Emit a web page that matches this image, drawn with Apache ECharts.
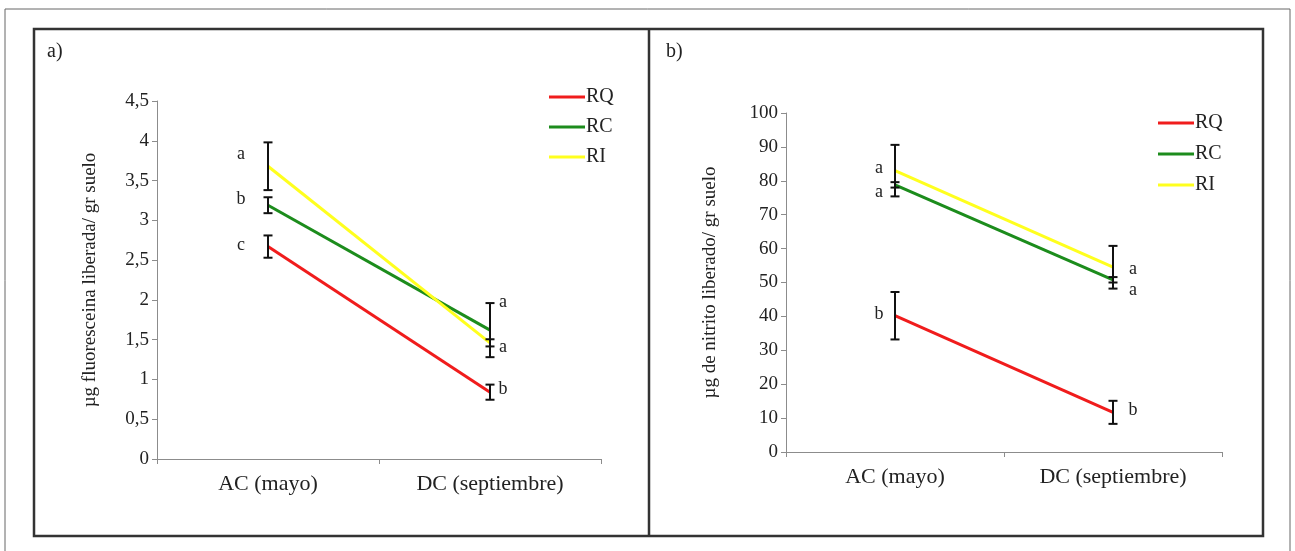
<!DOCTYPE html>
<html>
<head>
<meta charset="utf-8">
<script src="https://cdn.jsdelivr.net/npm/echarts@6/dist/echarts.min.js"></script>
<style>
  html, body { margin: 0; padding: 0; background: #fff; }
  #chart { width: 1295px; height: 551px; }
</style>
</head>
<body>
<div id="chart"></div>
<script>
// categories and series names
const categories = ['AC (mayo)', 'DC (septiembre)'];
const treatments = ['RQ', 'RC', 'RI'];

// panel a) fluoresceina
const fluorRQ = [2.67, 0.84];
const fluorRC = [3.19, 1.62];
const fluorRI = [3.68, 1.46];
const fluorErrRQ = [0.14, 0.095];
const fluorErrRC = [0.10, 0.34];
const fluorErrRI = [0.30, 0.045];
// letters: [category index, y value, text]
const fluorLetters = [[0, 3.83, 'a'], [0, 3.27, 'b'], [0, 2.69, 'c'],
                      [1, 1.97, 'a'], [1, 1.41, 'a'], [1, 0.88, 'b']];

// panel b) nitrito
const nitRQ = [40.2, 11.7];
const nitRC = [78.8, 50.8];
const nitRI = [83.0, 54.5];
const nitErrRQ = [7.0, 3.4];
const nitErrRC = [0.8, 0.8];
const nitErrRI = [7.6, 6.3];
const nitLetters = [[0, 83.8, 'a'], [0, 76.7, 'a'], [0, 40.7, 'b'],
                    [1, 54.0, 'a'], [1, 47.8, 'a'], [1, 12.4, 'b']];

const colors = { RQ: '#f01c1c', RC: '#1c8c1c', RI: '#ffff1e' };
const FONT = '"Liberation Serif", "Times New Roman", serif';
const axisGray = '#8c8c8c';

const chart = echarts.init(document.getElementById('chart'));

function errorSeries(gridIdx, values, errs) {
  const data = [];
  values.forEach((v, i) => data.push([i, v - errs[i], v + errs[i]]));
  return {
    type: 'custom',
    xAxisIndex: gridIdx, yAxisIndex: gridIdx,
    z: 5,
    silent: true,
    data: data,
    renderItem: (params, api) => {
      const lo = api.coord([api.value(0), api.value(1)]);
      const hi = api.coord([api.value(0), api.value(2)]);
      const w = 4.5;
      const st = { stroke: '#111', lineWidth: 2 };
      return {
        type: 'group',
        children: [
          { type: 'line', shape: { x1: lo[0], y1: lo[1], x2: hi[0], y2: hi[1] }, style: st },
          { type: 'line', shape: { x1: lo[0] - w, y1: lo[1], x2: lo[0] + w, y2: lo[1] }, style: st },
          { type: 'line', shape: { x1: hi[0] - w, y1: hi[1], x2: hi[0] + w, y2: hi[1] }, style: st }
        ]
      };
    }
  };
}

function letterSeries(gridIdx, letters, dx) {
  return {
    type: 'custom',
    xAxisIndex: gridIdx, yAxisIndex: gridIdx,
    z: 6,
    silent: true,
    data: letters.map(l => [l[0], l[1]]),
    renderItem: (params, api) => {
      const p = api.coord([api.value(0), api.value(1)]);
      return {
        type: 'text',
        x: p[0] + dx[api.value(0)],
        y: p[1],
        style: {
          text: letters[params.dataIndex][2],
          font: '18px ' + FONT,
          fill: '#222',
          align: 'center',
          verticalAlign: 'middle'
        }
      };
    }
  };
}

function lineSeries(gridIdx, name, values) {
  return {
    name: name,
    type: 'line',
    xAxisIndex: gridIdx, yAxisIndex: gridIdx,
    data: values,
    symbol: 'none',
    lineStyle: { width: 3, color: colors[name] },
    itemStyle: { color: colors[name] },
    z: 3
  };
}

function xAxis(gridIdx) {
  return {
    type: 'category',
    gridIndex: gridIdx,
    data: categories,
    boundaryGap: true,
    axisLine: { lineStyle: { color: axisGray, width: 1 } },
    axisTick: { show: true, length: 5, lineStyle: { color: axisGray } },
    axisLabel: { color: '#222', fontFamily: FONT, fontSize: 22, margin: 14 },
    splitLine: { show: false }
  };
}

function yAxis(gridIdx, max, interval, name, nameGap) {
  return {
    type: 'value',
    gridIndex: gridIdx,
    min: 0, max: max, interval: interval,
    name: name,
    nameLocation: 'middle',
    nameGap: nameGap,
    nameTextStyle: { color: '#222', fontFamily: FONT, fontSize: 19 },
    axisLine: { show: true, lineStyle: { color: axisGray, width: 1 } },
    axisTick: { show: true, length: 5, lineStyle: { color: axisGray } },
    axisLabel: {
      color: '#222', fontFamily: FONT, fontSize: 19, margin: 8,
      formatter: v => String(v).replace('.', ',')
    },
    splitLine: { show: false }
  };
}

function legend(left, top, gap) {
  return {
    orient: 'vertical',
    left: left, top: top,
    padding: 0,
    data: treatments,
    icon: 'rect',
    itemWidth: 36, itemHeight: 3,
    itemGap: gap,
    selectedMode: false,
    textStyle: { color: '#222', fontFamily: FONT, fontSize: 20, padding: [0, 0, 0, -4], lineHeight: 16 }
  };
}

const option = {
  animation: false,
  backgroundColor: '#fff',
  grid: [
    { left: 157, top: 101, width: 444, height: 358 },
    { left: 786, top: 113, width: 436, height: 339 }
  ],
  xAxis: [xAxis(0), xAxis(1)],
  yAxis: [
    yAxis(0, 4.5, 0.5, 'µg fluoresceina liberada/ gr suelo', 57),
    yAxis(1, 100, 10, 'µg de nitrito liberado/ gr suelo', 66)
  ],
  legend: [legend(549, 87, 10), legend(1158, 113, 11)],
  graphic: [
    { type: 'rect', shape: { x: 5, y: 9, width: 1285, height: 560 }, style: { fill: 'none', stroke: '#666', lineWidth: 1 }, silent: true },
    { type: 'rect', shape: { x: 34, y: 29, width: 1229, height: 507 }, style: { fill: 'none', stroke: '#333', lineWidth: 2.5 }, silent: true },
    { type: 'line', shape: { x1: 649, y1: 29, x2: 649, y2: 536 }, style: { stroke: '#333', lineWidth: 2.5 }, silent: true },
    { type: 'text', x: 47, y: 52, style: { text: 'a)', font: '20px ' + FONT, fill: '#222', verticalAlign: 'middle' }, silent: true },
    { type: 'text', x: 666, y: 52, style: { text: 'b)', font: '20px ' + FONT, fill: '#222', verticalAlign: 'middle' }, silent: true }
  ],
  series: [
    lineSeries(0, 'RQ', fluorRQ),
    lineSeries(0, 'RC', fluorRC),
    lineSeries(0, 'RI', fluorRI),
    errorSeries(0, fluorRQ, fluorErrRQ),
    errorSeries(0, fluorRC, fluorErrRC),
    errorSeries(0, fluorRI, fluorErrRI),
    letterSeries(0, fluorLetters, [-27, 13]),
    lineSeries(1, 'RQ', nitRQ),
    lineSeries(1, 'RC', nitRC),
    lineSeries(1, 'RI', nitRI),
    errorSeries(1, nitRQ, nitErrRQ),
    errorSeries(1, nitRC, nitErrRC),
    errorSeries(1, nitRI, nitErrRI),
    letterSeries(1, nitLetters, [-16, 20])
  ]
};

chart.setOption(option);
</script>
</body>
</html>
